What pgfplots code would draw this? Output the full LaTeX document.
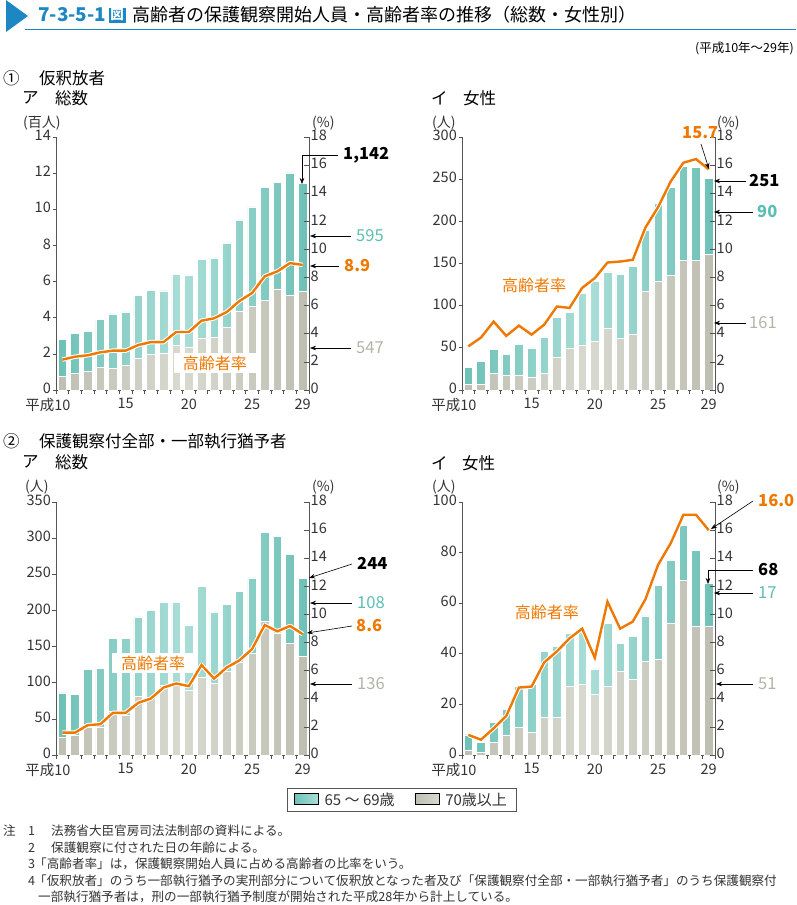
\documentclass[border=0pt]{standalone}
\usepackage{pgfplots}
\pgfplotsset{compat=1.18}
\usepackage{pgfplotstable}
\usepackage{fontspec}
\setmainfont{Noto Sans CJK JP}
\usetikzlibrary{arrows.meta}

\definecolor{titleblue}{HTML}{1C87C2}
\definecolor{axiscol}{HTML}{555555}
\definecolor{labcol}{HTML}{333333}
\definecolor{tealD}{HTML}{6EC1B7}
\definecolor{tealL}{HTML}{AADED7}
\definecolor{tealM}{HTML}{8CD0C7}
\definecolor{greyD}{HTML}{BEBFB2}
\definecolor{greyL}{HTML}{D8D9CF}
\definecolor{greyM}{HTML}{CBCCC0}
\definecolor{orangeC}{HTML}{EE7800}
\definecolor{tealT}{HTML}{5CBDB2}
\definecolor{greyT}{HTML}{B3B4A7}

% Panel 1: 仮釈放者 総数 (百人)
\pgfplotstableread{
year grey teal rate
10 0.76 2.03 2.16
11 0.92 2.20 2.37
12 1.05 2.18 2.47
13 1.27 2.62 2.68
14 1.20 3.01 2.80
15 1.38 2.94 2.80
16 1.73 3.49 3.20
17 1.99 3.51 3.41
18 2.05 3.43 3.41
19 2.49 3.91 4.13
20 2.36 4.01 4.13
21 2.88 4.33 4.93
22 2.93 4.38 5.10
23 3.49 4.65 5.55
24 4.34 5.07 6.33
25 4.63 5.50 6.90
26 4.98 6.24 8.09
27 5.59 5.89 8.44
28 5.26 6.75 9.03
29 5.47 5.95 8.90
}\dataA
% Panel 2: 仮釈放者 女性 (人)
\pgfplotstableread{
year grey teal rate
10 7 20 3.11
11 7 27 3.73
12 20 28 4.87
13 17 25 3.85
14 18 36 4.58
15 15 35 3.94
16 20 42 4.65
17 39 47 5.94
18 50 42 5.84
19 53 62 7.27
20 58 71 7.96
21 73 67 9.07
22 61 76 9.14
23 66 81 9.26
24 117 73 11.56
25 129 93 13.01
26 136 104 14.84
27 154 111 16.17
28 154 110 16.43
29 161 90 15.70
}\dataB
% Panel 3: 保護観察付 総数 (人)
\pgfplotstableread{
year grey teal rate
10 24 62 1.59
11 27 57 1.59
12 38 80 2.12
13 39 81 2.19
14 61 100 3.00
15 55 106 3.00
16 81 110 3.71
17 80 120 4.02
18 97 115 4.80
19 99 112 5.09
20 89 91 4.90
21 108 125 6.40
22 99 99 5.44
23 116 92 6.23
24 129 97 6.73
25 141 104 7.54
26 185 123 9.25
27 168 134 8.80
28 154 124 9.18
29 136 108 8.60
}\dataC
% Panel 4: 保護観察付 女性 (人)
\pgfplotstableread{
year grey teal rate
10 2 6 1.43
11 1 4 1.09
12 5 8 1.90
13 8 10 2.78
14 11 16 4.80
15 9 19 4.87
16 15 26 6.59
17 15 28 7.37
18 27 21 8.30
19 28 21 8.99
20 24 10 6.92
21 27 25 10.91
22 33 11 8.99
23 30 17 9.49
24 37 18 11.08
25 38 29 13.53
26 52 25 15.07
27 69 22 17.09
28 51 30 17.09
29 51 17 16.00
}\dataD

\pgfplotsset{
  panel/.style={scale only axis, width=253pt, height=253pt, xmin=9.5, xmax=29.5, ymin=0,
    axis line style={axiscol, line width=0.7pt},
    every tick/.style={axiscol, line width=0.7pt},
    tick label style={font=\fontsize{14.5}{14.5}\selectfont, text=labcol},
    /pgf/number format/assume math mode=true,
    clip=false},
  barax/.style={panel, axis x line*=bottom, axis y line*=left, ybar stacked, bar width=0.68,
    xtick={9.5,10.5,...,29.5}, xticklabels={}, tick align=outside, major tick length=3.5pt,
    extra x ticks={10,15,20,25,29},
    extra x tick labels={\llap{平成}10,15,20,25,29},
    extra x tick style={major tick length=0pt, xticklabel style={yshift=-5pt}},
    yticklabel style={inner sep=1.5pt, yshift=1.5pt}},
  lineax/.style={panel, ymax=18, axis x line=none, axis y line*=right, ytick={0,2,...,18},
    tick align=inside, major tick length=5pt, yticklabel style={inner sep=1.5pt, yshift=1.5pt}},
  greybar/.style={draw=white, line width=0.5pt, left color=greyD, right color=greyD, middle color=greyL},
  tealbar/.style={draw=white, line width=0.5pt, left color=tealD, right color=tealD, middle color=tealL},
  halo/.style={white, line width=4.4pt, line join=round, forget plot},
  rateline/.style={orangeC, line width=2.4pt, forget plot},
}

\newcommand{\fs}[1]{\fontsize{#1}{#1}\selectfont}

\begin{document}
\begin{tikzpicture}
\useasboundingbox (0pt,0pt) rectangle (796pt,-905pt);

% ---- title ----
\fill[titleblue] (6pt,0pt) -- (6pt,-32pt) -- (28pt,-16pt) -- cycle;
\draw[titleblue, line width=1.4pt] (25pt,-29.5pt) -- (796pt,-29.5pt);
\node[anchor=west, text=titleblue, font=\bfseries\fs{19}, inner sep=0pt] (num) at (38pt,-15pt) {7-3-5-1};
\node[anchor=west, fill=titleblue, text=white, font=\bfseries\fs{13.5}, inner sep=1pt, minimum width=17pt, minimum height=15pt] at ([xshift=2pt]num.east) {図};
\node[anchor=west, font=\fs{18}, inner sep=0pt] at (132pt,-15pt) {高齢者の保護観察開始人員・高齢者率の推移（総数・女性別）};
\node[anchor=east, font=\fs{12.5}, inner sep=0pt] at (794pt,-48pt) {(平成10年～29年)};

% ---- section headers ----
\node[anchor=west, font=\fs{16.5}, inner sep=0pt] at (3pt,-78pt) {①};
\node[anchor=west, font=\fs{16.5}, inner sep=0pt] at (39pt,-78pt) {仮釈放者};
\node[anchor=west, font=\fs{16.5}, inner sep=0pt] at (22pt,-98pt) {ア};
\node[anchor=west, font=\fs{16.5}, inner sep=0pt] at (55pt,-98pt) {総数};
\node[anchor=west, font=\fs{16.5}, inner sep=0pt] at (431pt,-98pt) {イ};
\node[anchor=west, font=\fs{16.5}, inner sep=0pt] at (463pt,-98pt) {女性};
\node[anchor=west, font=\fs{16.5}, inner sep=0pt] at (3pt,-441pt) {②};
\node[anchor=west, font=\fs{16.5}, inner sep=0pt] at (39pt,-441pt) {保護観察付全部・一部執行猶予者};
\node[anchor=west, font=\fs{16.5}, inner sep=0pt] at (22pt,-462pt) {ア};
\node[anchor=west, font=\fs{16.5}, inner sep=0pt] at (55pt,-462pt) {総数};
\node[anchor=west, font=\fs{16.5}, inner sep=0pt] at (431pt,-463pt) {イ};
\node[anchor=west, font=\fs{16.5}, inner sep=0pt] at (462pt,-463pt) {女性};

% units
\node[anchor=west, font=\fs{14}, inner sep=0pt, text=labcol] at (23pt,-123pt) {(百人)};
\node[anchor=west, font=\fs{14}, inner sep=0pt, text=labcol] at (312pt,-123pt) {(\%)};
\node[anchor=west, font=\fs{14}, inner sep=0pt, text=labcol] at (432pt,-123pt) {(人)};
\node[anchor=west, font=\fs{14}, inner sep=0pt, text=labcol] at (717pt,-123pt) {(\%)};
\node[anchor=west, font=\fs{14}, inner sep=0pt, text=labcol] at (25pt,-487pt) {(人)};
\node[anchor=west, font=\fs{14}, inner sep=0pt, text=labcol] at (312pt,-487pt) {(\%)};
\node[anchor=west, font=\fs{14}, inner sep=0pt, text=labcol] at (432pt,-487pt) {(人)};
\node[anchor=west, font=\fs{14}, inner sep=0pt, text=labcol] at (717pt,-487pt) {(\%)};

% ================= Panel 1 =================
\begin{axis}[barax, at={(56pt,-390pt)}, anchor=south west, ymax=14, ytick={0,2,...,14}]
\addplot[greybar] table[x=year,y=grey] {\dataA};
\addplot[tealbar] table[x=year,y=teal] {\dataA};
\end{axis}
\begin{axis}[lineax, at={(56pt,-390pt)}, anchor=south west]
\node[fill=white, text=orangeC, font=\fs{16}, inner xsep=9pt, inner ysep=3pt] at (axis cs:22.06,1.92) {高齢者率};
\addplot[halo] table[x=year,y=rate] {\dataA};
\addplot[rateline] table[x=year,y=rate] {\dataA};
\end{axis}

% ================= Panel 2 =================
\begin{axis}[barax, at={(462pt,-390pt)}, anchor=south west, ymax=300, ytick={0,50,...,300}]
\addplot[greybar] table[x=year,y=grey] {\dataB};
\addplot[tealbar] table[x=year,y=teal] {\dataB};
\end{axis}
\begin{axis}[lineax, at={(462pt,-390pt)}, anchor=south west]
\node[text=orangeC, font=\fs{16}] at (axis cs:15.2,7.47) {高齢者率};
\addplot[halo] table[x=year,y=rate] {\dataB};
\addplot[rateline] table[x=year,y=rate] {\dataB};
\end{axis}

% ================= Panel 3 =================
\begin{axis}[barax, at={(56pt,-755pt)}, anchor=south west, ymax=350, ytick={0,50,...,350}]
\addplot[greybar] table[x=year,y=grey] {\dataC};
\addplot[tealbar] table[x=year,y=teal] {\dataC};
\end{axis}
\begin{axis}[lineax, at={(56pt,-755pt)}, anchor=south west,
  legend style={at={(1.3656,-0.1759)}, anchor=center, legend columns=2, draw=axiscol, line width=0.6pt,
    font=\fs{15}, text=labcol, inner xsep=7pt, inner ysep=2.5pt, legend cell align=left,
    /tikz/every odd column/.append style={column sep=4pt},
    /tikz/every even column/.append style={column sep=18pt}},
  legend image code/.code={\fill[#1] (0pt,-5pt) rectangle (24pt,6pt);}]
\node[fill=white, text=orangeC, font=\fs{16}, inner xsep=9pt, inner ysep=3pt] at (axis cs:17.17,6.55) {高齢者率};
\addplot[halo] table[x=year,y=rate] {\dataC};
\addplot[rateline] table[x=year,y=rate] {\dataC};
\addlegendimage{left color=tealD, right color=tealL}
\addlegendentry{65 ～ 69歳}
\addlegendimage{left color=greyD, right color=greyL}
\addlegendentry{70歳以上}
\end{axis}

% ================= Panel 4 =================
\begin{axis}[barax, at={(462pt,-755pt)}, anchor=south west, ymax=100, ytick={0,20,...,100}]
\addplot[greybar] table[x=year,y=grey] {\dataD};
\addplot[tealbar] table[x=year,y=teal] {\dataD};
\end{axis}
\begin{axis}[lineax, at={(462pt,-755pt)}, anchor=south west]
\node[text=orangeC, font=\fs{16}] at (axis cs:16.2,10.17) {高齢者率};
\addplot[halo] table[x=year,y=rate] {\dataD};
\addplot[rateline] table[x=year,y=rate] {\dataD};
\end{axis}

% ---- annotations ----
\tikzset{ann/.style={-{Stealth[length=6pt,width=4.5pt]}, line width=0.6pt, black}}
% panel 1
\node[anchor=west, font=\bfseries\fs{16.5}, inner sep=0pt] at (343pt,-155pt) {1,142};
\draw[ann] (338pt,-155pt) -- (302pt,-155pt) -- (302pt,-184pt);
\node[anchor=west, font=\fs{16.5}, text=tealT, inner sep=0pt] at (356pt,-236pt) {595};
\draw[ann] (351pt,-236pt) -- (310pt,-236pt);
\node[anchor=west, font=\bfseries\fs{16.5}, text=orangeC, inner sep=0pt] at (344pt,-266pt) {8.9};
\draw[ann] (339pt,-266pt) -- (310pt,-266pt);
\node[anchor=west, font=\fs{16.5}, text=greyT, inner sep=0pt] at (356pt,-348pt) {547};
\draw[ann] (351pt,-348pt) -- (310pt,-348pt);
% panel 2
\node[anchor=west, font=\bfseries\fs{16.5}, text=orangeC, inner sep=0pt] at (682pt,-133pt) {15.7};
\draw[ann] (701pt,-144pt) -- (709pt,-169pt);
\node[anchor=west, font=\bfseries\fs{16.5}, inner sep=0pt] at (749pt,-181pt) {251};
\draw[ann] (746pt,-181pt) -- (714pt,-181pt);
\node[anchor=west, font=\bfseries\fs{16.5}, text=tealT, inner sep=0pt] at (757pt,-212pt) {90};
\draw[ann] (753pt,-212pt) -- (714pt,-212pt);
\node[anchor=west, font=\fs{16.5}, text=greyT, inner sep=0pt] at (749pt,-323pt) {161};
\draw[ann] (746pt,-323pt) -- (714pt,-323pt);
% panel 3
\node[anchor=west, font=\bfseries\fs{16.5}, inner sep=0pt] at (357pt,-563pt) {244};
\draw[ann] (352pt,-564pt) -- (309pt,-578pt);
\node[anchor=west, font=\fs{16.5}, text=tealT, inner sep=0pt] at (357pt,-603pt) {108};
\draw[ann] (352pt,-603pt) -- (310pt,-603pt);
\node[anchor=west, font=\bfseries\fs{16.5}, text=orangeC, inner sep=0pt] at (356pt,-626pt) {8.6};
\draw[ann] (352pt,-626pt) -- (307pt,-633pt);
\node[anchor=west, font=\fs{16.5}, text=greyT, inner sep=0pt] at (357pt,-684pt) {136};
\draw[ann] (352pt,-684pt) -- (310pt,-684pt);
% panel 4
\node[anchor=west, font=\bfseries\fs{16.5}, text=orangeC, inner sep=0pt] at (758pt,-501pt) {16.0};
\draw[ann] (753pt,-501pt) -- (711pt,-529pt);
\node[anchor=west, font=\bfseries\fs{16.5}, inner sep=0pt] at (758pt,-570pt) {68};
\draw[ann] (753pt,-570pt) -- (708pt,-570pt) -- (708pt,-584pt);
\node[anchor=west, font=\fs{16.5}, text=tealT, inner sep=0pt] at (758pt,-593pt) {17};
\draw[ann] (753pt,-593pt) -- (714pt,-593pt);
\node[anchor=west, font=\fs{16.5}, text=greyT, inner sep=0pt] at (758pt,-684pt) {51};
\draw[ann] (753pt,-684pt) -- (716pt,-684pt);

% ---- notes ----
\begin{scope}[every node/.style={anchor=west, font=\fs{12.6}, inner sep=0pt, text=labcol}]
\node at (3pt,-831pt) {注};
\node at (28pt,-831pt) {1};
\node at (51pt,-831pt) {法務省大臣官房司法法制部の資料による。};
\node at (28pt,-848pt) {2};
\node at (51pt,-848pt) {保護観察に付された日の年齢による。};
\node at (28pt,-864pt) {3};
\node at (34pt,-864pt) {「高齢者率」は，保護観察開始人員に占める高齢者の比率をいう。};
\node at (28pt,-881pt) {4};
\node at (34pt,-881pt) {「仮釈放者」のうち一部執行猶予の実刑部分について仮釈放となった者及び「保護観察付全部・一部執行猶予者」のうち保護観察付};
\node at (38pt,-897pt) {一部執行猶予者は，刑の一部執行猶予制度が開始された平成28年から計上している。};
\end{scope}
\end{tikzpicture}
\end{document}
